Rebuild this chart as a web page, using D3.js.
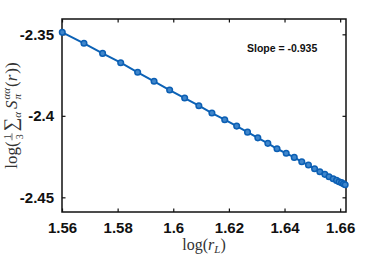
<!DOCTYPE html>
<html>
<head>
<meta charset="utf-8">
<script src="https://cdn.jsdelivr.net/npm/d3@7"></script>
<style>
  body { margin: 0; background: #fff; }
  svg { display: block; }
</style>
</head>
<body>
<div id="chart"></div>
<script>
// log(r_L) values
const logR = [1.5601, 1.5679, 1.5746, 1.5811, 1.5872, 1.5931, 1.5987, 1.6041, 1.6092, 1.6139,
              1.6185, 1.6228, 1.6267, 1.6304, 1.6340, 1.6373, 1.6406, 1.6435, 1.6462, 1.6486,
              1.6508, 1.6527, 1.6545, 1.6560, 1.6575, 1.6587, 1.6596, 1.6605, 1.6612, 1.6618];
// log(1/3 sum S) values
const logS = [-2.3488, -2.3555, -2.3617, -2.3674, -2.3733, -2.3788, -2.3842, -2.3891, -2.3938, -2.3983,
              -2.4024, -2.4063, -2.4100, -2.4135, -2.4169, -2.4202, -2.4230, -2.4255, -2.4282, -2.4302,
              -2.4325, -2.4343, -2.4359, -2.4374, -2.4386, -2.4396, -2.4404, -2.4410, -2.4417, -2.4423];
const xTicks = [1.56, 1.58, 1.6, 1.62, 1.64, 1.66];
const yTicks = [-2.35, -2.4, -2.45];
const xDomain = [1.56, 1.6621];
const yDomain = [-2.4590, -2.3406];
const slopeText = "Slope = -0.935";

const width = 382, height = 256;
const margin = { top: 19, right: 36, bottom: 44, left: 62 };
const w = width - margin.left - margin.right;
const h = height - margin.top - margin.bottom;

const svg = d3.select("#chart").append("svg")
  .attr("width", width).attr("height", height);
const g = svg.append("g").attr("transform", `translate(${margin.left},${margin.top})`);

const x = d3.scaleLinear().domain(xDomain).range([0, w]);
const y = d3.scaleLinear().domain(yDomain).range([h, 0]);

const tickLen = 3.5;

// axes, ticks pointing inward on all four sides
const xAxis = g.append("g").attr("transform", `translate(0,${h})`)
  .call(d3.axisBottom(x).tickValues(xTicks).tickSizeInner(-tickLen).tickSizeOuter(0).tickPadding(10)
    .tickFormat(d => String(d)));
const xTop = g.append("g")
  .call(d3.axisTop(x).tickValues(xTicks).tickSizeInner(-tickLen).tickSizeOuter(0).tickFormat(""));
const yAxis = g.append("g")
  .call(d3.axisLeft(y).tickValues(yTicks).tickSizeInner(-tickLen).tickSizeOuter(0).tickPadding(8)
    .tickFormat(d => String(d)));
const yRight = g.append("g").attr("transform", `translate(${w},0)`)
  .call(d3.axisRight(y).tickValues(yTicks).tickSizeInner(-tickLen).tickSizeOuter(0).tickFormat(""));

[xAxis, xTop, yAxis, yRight].forEach(a => {
  a.select(".domain").remove();
  a.selectAll(".tick line").attr("stroke", "#111").attr("stroke-width", 1.2);
  a.selectAll(".tick text")
    .attr("font-family", "Liberation Sans, Arial, sans-serif")
    .attr("font-weight", "bold")
    .attr("font-size", 15)
    .attr("fill", "#111");
});

// box
g.append("rect").attr("x", 0).attr("y", 0).attr("width", w).attr("height", h)
  .attr("fill", "none").attr("stroke", "#111").attr("stroke-width", 1.5);

// data line and markers
const pts = logR.map((d, i) => [d, logS[i]]);
g.append("path").datum(pts)
  .attr("fill", "none").attr("stroke", "#0c62b6").attr("stroke-width", 2)
  .attr("d", d3.line().x(d => x(d[0])).y(d => y(d[1])));
g.selectAll(".pt").data(pts).enter().append("circle")
  .attr("class", "pt")
  .attr("cx", d => x(d[0])).attr("cy", d => y(d[1]))
  .attr("r", 2.8)
  .attr("fill", "#3f86cc").attr("stroke", "#0c5fb3").attr("stroke-width", 1.5);

// slope annotation
g.append("text")
  .attr("x", x(1.6265)).attr("y", y(-2.3607))
  .attr("font-family", "Liberation Sans, Arial, sans-serif")
  .attr("font-weight", "bold").attr("font-size", 10.5).attr("fill", "#111")
  .text(slopeText);

// x label: log(r_L)
const serif = "Liberation Serif, Times New Roman, serif";
const xl = svg.append("text")
  .attr("x", margin.left + w / 2).attr("y", 250)
  .attr("text-anchor", "middle")
  .attr("font-family", serif).attr("font-size", 16).attr("fill", "#333");
xl.append("tspan").text("log(");
xl.append("tspan").attr("font-style", "italic").text("r");
xl.append("tspan").attr("font-style", "italic").attr("font-size", 11).attr("dy", 3).text("L");
xl.append("tspan").attr("dy", -3).text(")");

// y label: log(1/3 Σ_α S_π^{αα}(r)), built piece by piece then rotated
const yl = svg.append("g");
const inner = yl.append("g");
let cx = 0;
function piece(t, opts = {}) {
  const el = inner.append("text")
    .attr("x", cx).attr("y", opts.dy || 0)
    .attr("font-family", serif).attr("font-size", opts.size || 17)
    .attr("font-style", opts.italic ? "italic" : "normal")
    .attr("fill", "#333").text(t);
  const len = el.node().getComputedTextLength();
  if (!opts.stay) cx += len + (opts.gap || 0);
  return len;
}
piece("log(");
// fraction 1/3
const fx = cx + 1;
inner.append("text").attr("x", fx + 3.5).attr("y", -6.5).attr("text-anchor", "middle")
  .attr("font-family", serif).attr("font-size", 10).attr("fill", "#333").text("1");
inner.append("text").attr("x", fx + 3.5).attr("y", 5.5).attr("text-anchor", "middle")
  .attr("font-family", serif).attr("font-size", 10).attr("fill", "#333").text("3");
inner.append("line").attr("x1", fx).attr("x2", fx + 7).attr("y1", -5).attr("y2", -5)
  .attr("stroke", "#333").attr("stroke-width", 0.7);
cx += 10;
piece("\u2211", { size: 19 });
piece("\u03b1", { size: 11, italic: true, dy: 3.5, gap: 3 });
piece("S", { italic: true, gap: 1 });
const supStart = cx;
const supLen = piece("\u03b1\u03b1", { size: 11, italic: true, dy: -7, stay: true });
const subLen = piece("\u03c0", { size: 11, italic: true, dy: 4, stay: true });
cx = supStart + Math.max(supLen, subLen) + 1;
piece("(");
piece("r", { italic: true, gap: 1 });
piece("))");
const total = cx;
inner.attr("transform", `translate(${-total / 2},0)`);
yl.attr("transform", `translate(17,${margin.top + h / 2}) rotate(-90)`);
</script>
</body>
</html>
